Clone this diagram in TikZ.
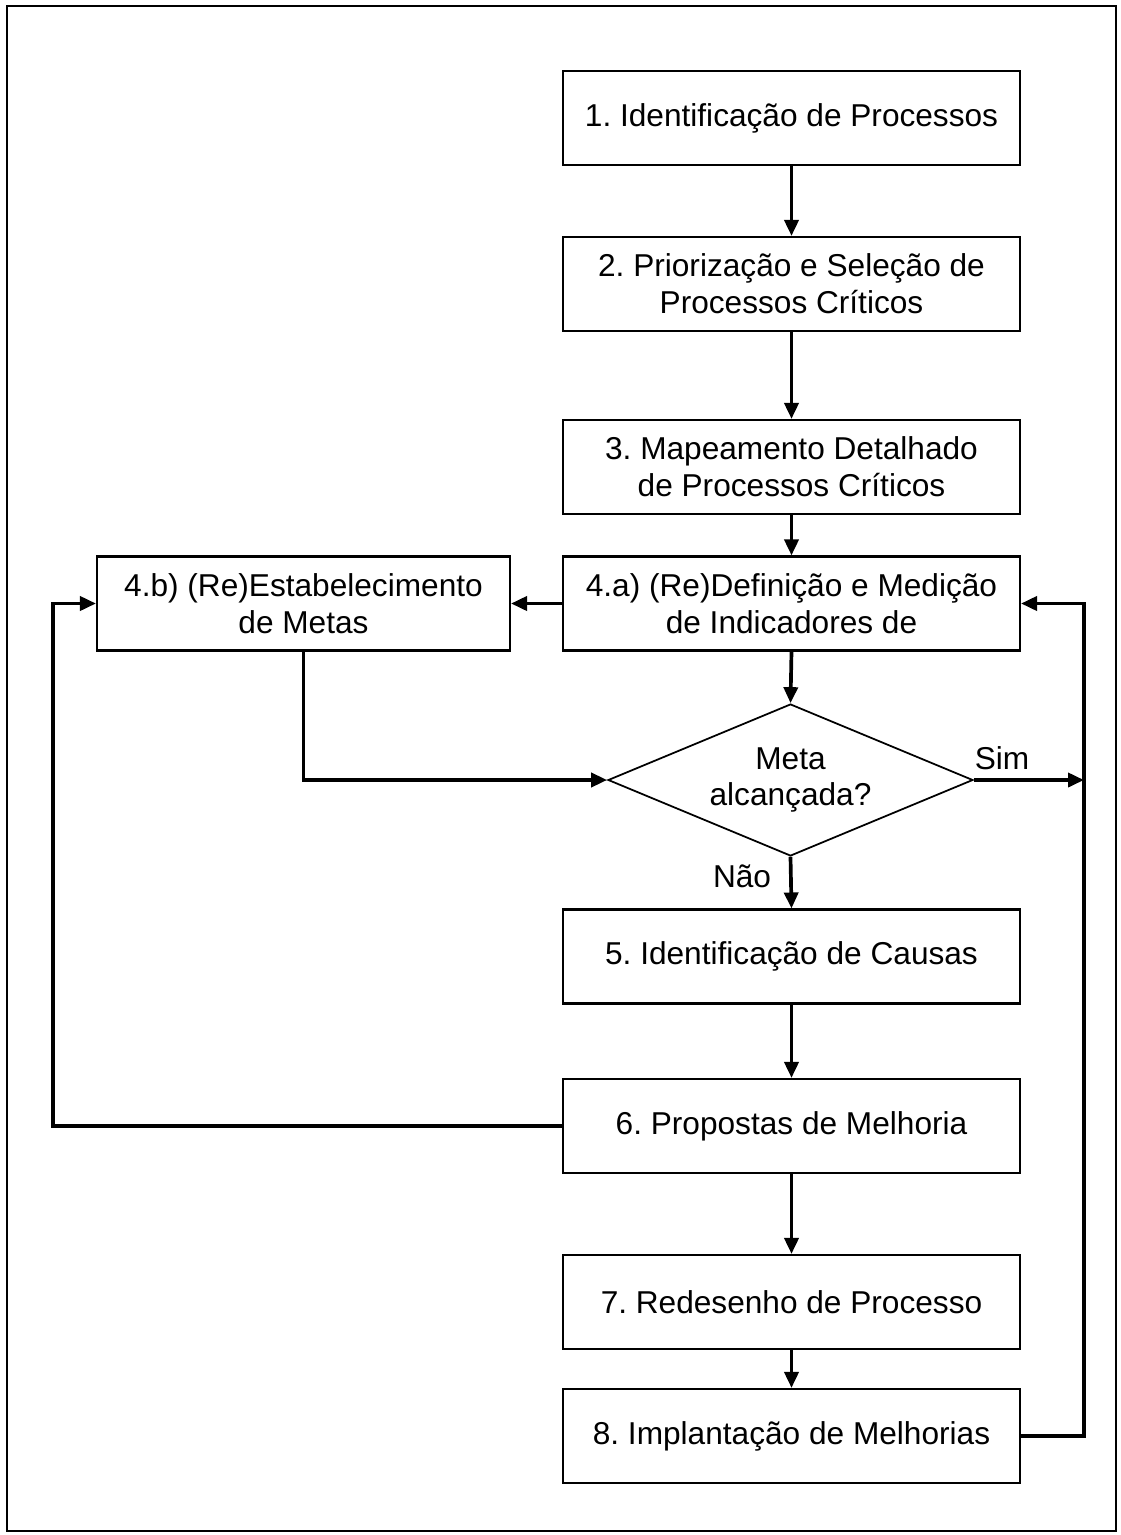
\documentclass[tikz,border=0pt]{standalone}
\usepackage{fontspec}
\setmainfont{Liberation Sans}
\usetikzlibrary{shapes.geometric,arrows.meta}
\frenchspacing
\begin{document}
\begin{tikzpicture}[x=0.02cm,y=-0.02cm,
  txt/.style={font=\fontsize{18}{21}\selectfont},
  box/.style={txt,draw,line width=1.2pt,minimum width=9.14cm,minimum height=1.88cm,
    align=center,inner sep=0pt},
  decision/.style={txt,draw,diamond,aspect=2.4,line width=1pt,minimum width=7.3cm,
    minimum height=3.04cm,align=center,inner sep=0pt},
  lbl/.style={txt,inner sep=0pt},
  flow/.style={line width=2.1pt,-{Triangle[length=0.32cm,width=0.28cm]}}]
\useasboundingbox (0,0) rectangle (1120,1535);
\draw[line width=1pt] (7,6) rectangle (1116,1531);

% process steps
\node[box] (n1) at (791.5,118) {1. Identificação de Processos};
\node[box] (n2) at (791.5,284) {2. Priorização e Seleção de\\Processos Críticos};
\node[box] (n3) at (791.5,467) {3. Mapeamento Detalhado\\de Processos Críticos};
\node[box] (n4a) at (791.5,603.5) {4.a) (Re)Definição e Medição\\de Indicadores de};
\node[box,minimum width=8.26cm] (n4b) at (303.5,603.5) {4.b) (Re)Estabelecimento\\de Metas};
\node[decision] (dec) at (790.5,780) {Meta\\alcançada?};
\node[box] (n5) at (791.5,956.5) {5. Identificação de Causas};
\node[box] (n6) at (791.5,1126) {6. Propostas de Melhoria};
\node[box] (n7) at (791.5,1302) {7. Redesenho de Processo};
\node[box] (n8) at (791.5,1436) {8. Implantação de Melhorias};

% branch labels
\node[lbl] (sim) at (1002,758) {Sim};
\node[lbl] (nao) at (742,876) {Não};

% feedback lines
\coordinate (rline) at (1084,0);
\coordinate (lline) at (53,0);

\draw[flow] (n1.south) -- (n2.north);
\draw[flow] (n2.south) -- (n3.north);
\draw[flow] (n3.south) -- (n4a.north);
\draw[flow] (n4a.west) -- (n4b.east);
\draw[flow] (n4a.south) -- (dec.north);
\draw[flow] (n4b.south) |- (dec.west);
\draw[flow] (dec.east) -- (dec.east -| rline);
\draw[flow] (dec.south) -- (n5.north);
\draw[flow] (n5.south) -- (n6.north);
\draw[flow] (n6.south) -- (n7.north);
\draw[flow] (n7.south) -- (n8.north);
\draw[flow] (n8.east) -- (n8.east -| rline) |- (n4a.east);
\draw[flow] (n6.west) -- (n6.west -| lline) |- (n4b.west);
\end{tikzpicture}
\end{document}
